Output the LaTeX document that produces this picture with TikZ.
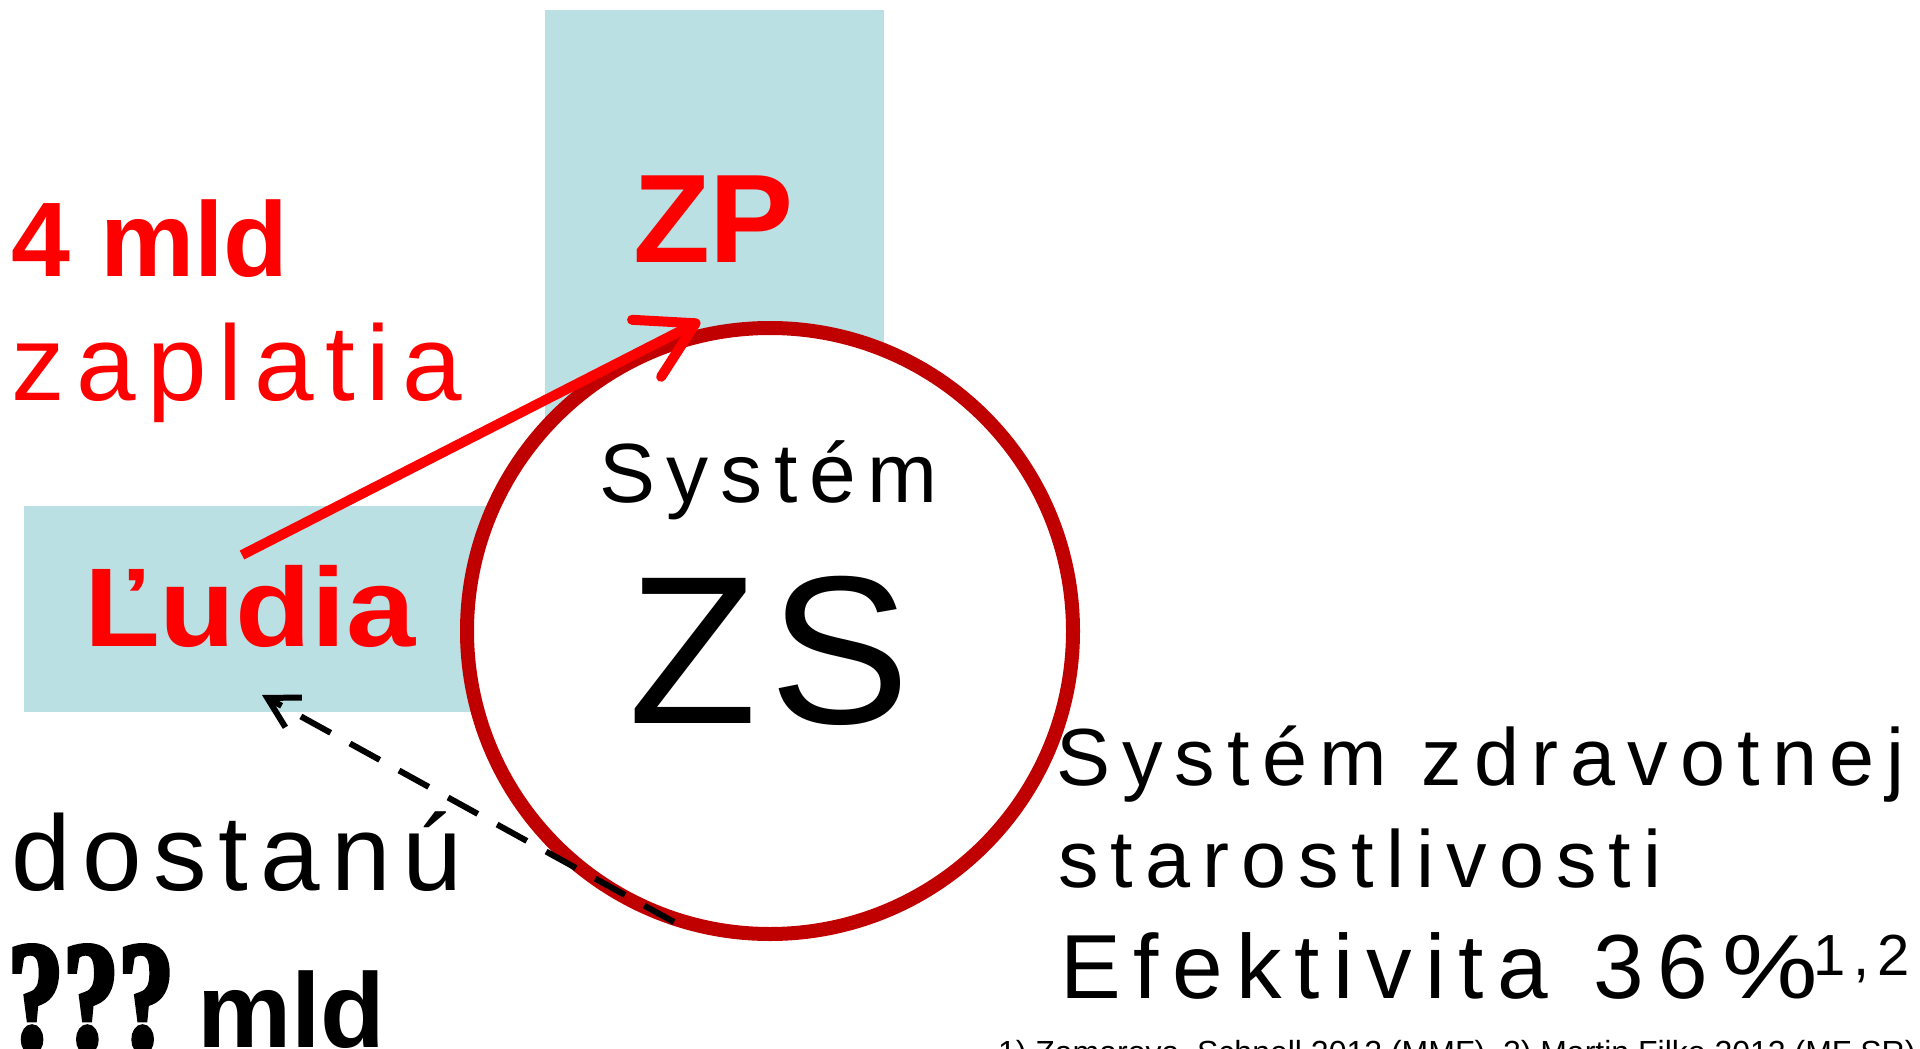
\documentclass[tikz,border=0pt]{standalone}
\usepackage{fontspec}
\setmainfont{Liberation Sans}
\newfontfamily\trackL{Liberation Sans}[LetterSpace=11]
\newfontfamily\trackC{Liberation Sans}[LetterSpace=14]
\newfontfamily\trackZ{Liberation Sans}[LetterSpace=6]
\newfontfamily\trackR{Liberation Sans}[LetterSpace=15]
\newfontfamily\trackE{Liberation Sans}[LetterSpace=14.5]
\newfontfamily\trackS{Liberation Sans}[LetterSpace=13]
\newfontfamily\plainS{Liberation Sans}
\newfontfamily\wideB{Liberation Sans}[FakeStretch=1.11]
\newfontfamily\qfont{Liberation Serif}[FakeStretch=0.7,BoldFeatures={FakeBold=3}]
\usetikzlibrary{arrows.meta}
\definecolor{boxteal}{RGB}{187,224,227}
\definecolor{zsred}{RGB}{192,0,0}
\definecolor{pred}{RGB}{255,0,0}
\begin{document}
\begin{tikzpicture}[x=1pt,y=-1pt,
  box/.style={fill=boxteal,draw=none,inner sep=0pt,outer sep=0pt,anchor=north west},
  txt/.style={inner sep=0pt,outer sep=0pt,anchor=base west},
  redtxt/.style={txt,text=pred},
  redarrow/.style={draw=pred,line width=10pt,-{Straight Barb[length=55pt,width=64pt,round]}},
  dasharrow/.style={draw=black,line width=6pt,dash pattern=on 34pt off 22pt,-{Straight Barb[length=30pt,width=34pt]}}
]
\useasboundingbox (0,0) rectangle (1920,1049);
\clip (0,0) rectangle (1920,1049);
% boxes
\node[box,minimum width=339pt,minimum height=610pt] (zpbox) at (545,10) {};
\node[box,minimum width=616pt,minimum height=206pt] (ludiabox) at (24,506) {};
% circle
\node[circle,draw=zsred,fill=white,line width=14pt,minimum size=606pt,inner sep=0pt] (zs) at (770,631) {};
% texts
\node[redtxt,font=\bfseries\fontsize{106}{106}\selectfont] (mldfour) at (12,276) {4 mld};
\node[redtxt,font=\trackL\fontsize{107}{107}\selectfont] (zapl) at (11,400) {zaplatia};
\node[redtxt,font=\bfseries\fontsize{126}{126}\selectfont] (zp) at (633,262) {ZP};
\node[redtxt,font=\wideB\bfseries\fontsize{112}{112}\selectfont] (ludia) at (84,646) {Ľudia};
\node[txt,font=\trackC\fontsize{84}{84}\selectfont] (sys) at (599,502) {Systém};
\node[txt,font=\trackZ\fontsize{211}{211}\selectfont] (zstext) at (628,723) {ZS};
\node[txt,font=\trackL\fontsize{107}{107}\selectfont] (dost) at (11,890) {dostanú};
\node[txt,font=\qfont\bfseries\fontsize{158}{158}\selectfont] (qq) at (8,1050) {???};
\node[txt,font=\bfseries\fontsize{106}{106}\selectfont] (mldq) at (197,1047) {mld};
\node[txt,font=\trackR\fontsize{81}{81}\selectfont] (line1) at (1056,785) {Systém zdravotnej};
\node[txt,font=\trackR\fontsize{81}{81}\selectfont] (line2) at (1058,887) {starostlivosti};
\node[txt,font=\trackE\fontsize{91}{91}\selectfont] (line3) at (1060,998) {Efektivita\hspace{46pt}36\hspace{14pt}\scalebox{1.18}[1]{\plainS\fontsize{91}{91}\selectfont\%}\hspace{-4pt}\raisebox{23pt}{\trackS\fontsize{58}{58}\selectfont 1,2}};
\node[txt,font=\fontsize{32}{32}\selectfont] (foot) at (998,1063) {1) Zamarova, Schnell 2012 (MMF), 2) Martin Filko 2012 (MF SR)};
% connectors
\coordinate (redstart) at (242,555);
\coordinate (redtip) at (700,321);
\draw[redarrow] (redstart) -- (redtip);
\coordinate (dashstart) at (674,922);
\coordinate (dashtip) at (262,695);
\draw[dasharrow] (dashstart) -- (dashtip);
\end{tikzpicture}
\end{document}
